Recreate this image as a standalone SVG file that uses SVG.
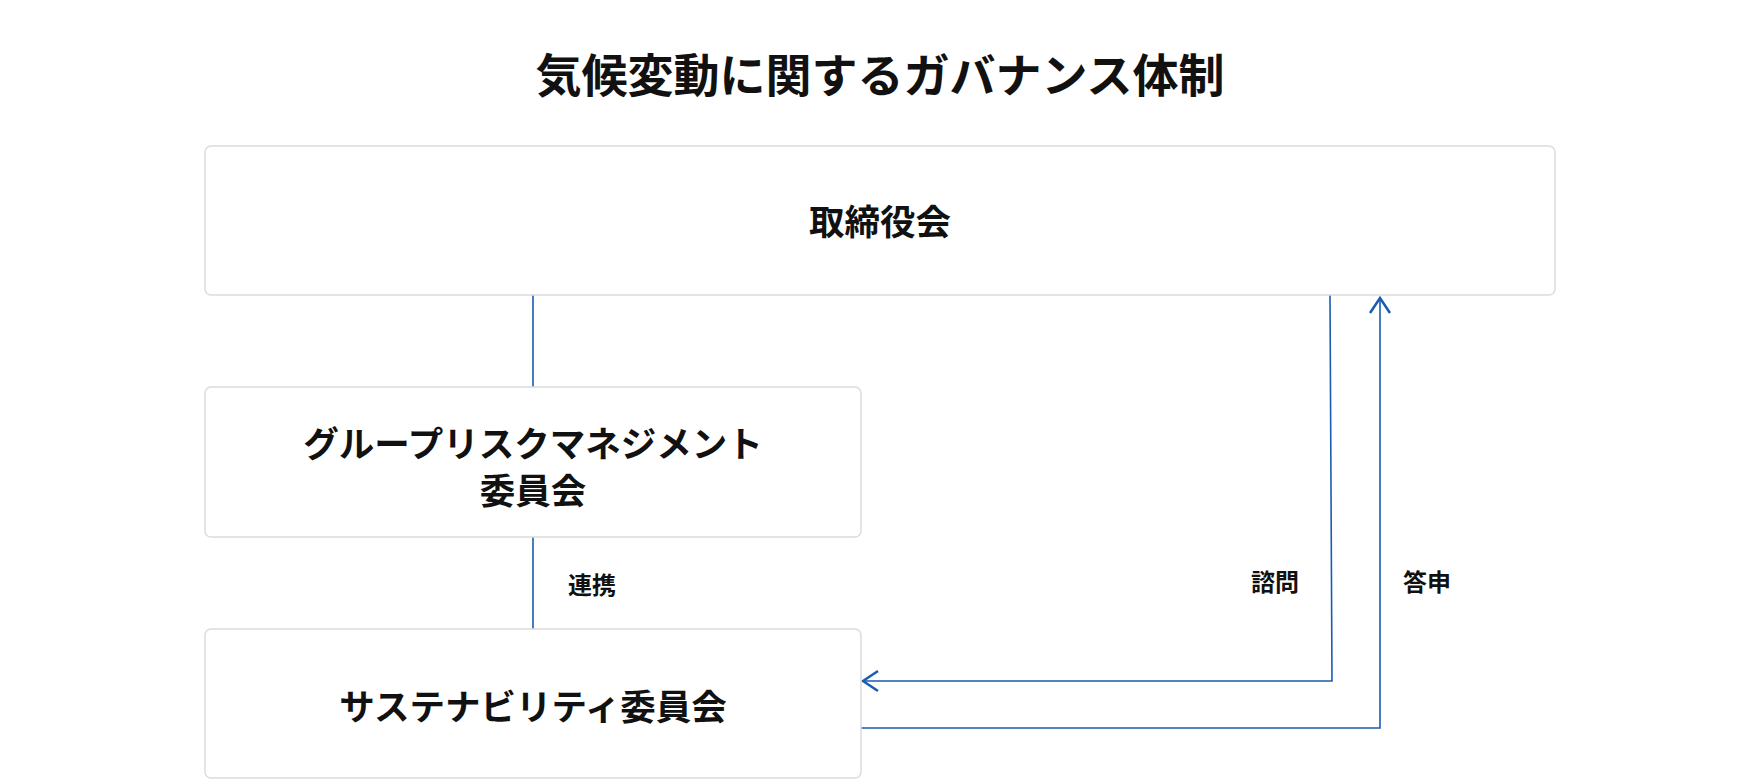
<svg xmlns="http://www.w3.org/2000/svg" width="1760" height="780" viewBox="0 0 1760 780">
<style>
.t{font-family:"Noto Sans CJK JP","Noto Sans",sans-serif;font-weight:700;fill:#111;text-anchor:middle;dominant-baseline:central}
.box{fill:#fff;stroke:#dcdcdc;stroke-width:1.5}
.ln{fill:none;stroke:#1a5cb0;stroke-width:1.6}
</style>
<defs>
<marker id="ah" markerUnits="userSpaceOnUse" markerWidth="24" markerHeight="26" viewBox="-18 -13 22 26" refX="0" refY="0" orient="auto" overflow="visible">
<path d="M-15,-10 L0,0 L-15,10" fill="none" stroke="#1a5cb0" stroke-width="2.5"/>
</marker>
</defs>
<rect width="1760" height="780" fill="#fff"/>
<text class="t" x="880" y="72" font-size="46">気候変動に関するガバナンス体制</text>
<g id="connectors">
<line class="ln" x1="533" y1="295" x2="533" y2="387"/>
<line class="ln" x1="533" y1="537" x2="533" y2="629"/>
<path class="ln" d="M1330,295 L1332,681 L863,681" marker-end="url(#ah)"/>
<path class="ln" d="M861,728 L1380,728 L1380,298" marker-end="url(#ah)"/>
<text class="t" x="592" y="583" font-size="24">連携</text>
<text class="t" x="1275" y="580" font-size="24">諮問</text>
<text class="t" x="1427" y="580" font-size="24">答申</text>
</g>
<g id="board">
<rect class="box" x="205" y="146" width="1350" height="149" rx="6"/>
<text class="t" x="880" y="219" font-size="35.5">取締役会</text>
</g>
<g id="grm">
<rect class="box" x="205" y="387" width="656" height="150" rx="6"/>
<text class="t" x="533" y="441" font-size="35.5">グループリスクマネジメント</text>
<text class="t" x="533" y="488" font-size="35.5">委員会</text>
</g>
<g id="sustainability">
<rect class="box" x="205" y="629" width="656" height="149" rx="6"/>
<text class="t" x="533" y="704" font-size="35.5">サステナビリティ委員会</text>
</g>
</svg>
